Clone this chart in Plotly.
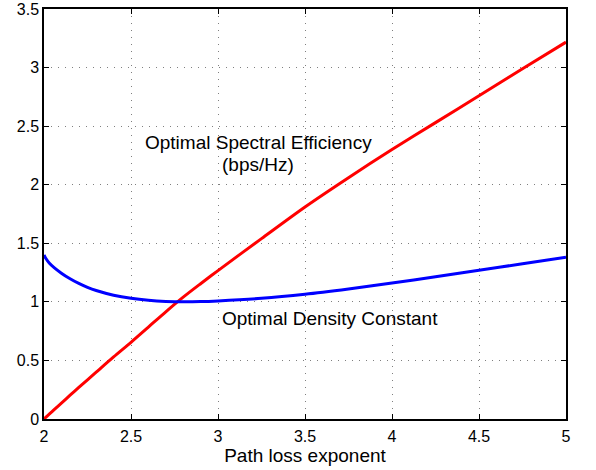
import plotly.graph_objects as go

# Path loss exponent samples
alpha = [2.0, 2.01, 2.03, 2.06, 2.1, 2.15, 2.2, 2.25, 2.3, 2.4, 2.5, 2.6, 2.7,
         2.8, 2.9, 3.0, 3.25, 3.5, 3.75, 4.0, 4.25, 4.5, 4.75, 5.0]

# Optimal spectral efficiency (bps/Hz)
spectral_eff = [0.0, 0.014, 0.041, 0.082, 0.135, 0.203, 0.27, 0.335, 0.40, 0.53,
                0.655, 0.785, 0.915, 1.04, 1.155, 1.267, 1.54, 1.81, 2.06, 2.30,
                2.53, 2.76, 2.99, 3.217]

# Optimal density constant
density_const = [1.40, 1.372, 1.332, 1.29, 1.245, 1.197, 1.157, 1.124, 1.097,
                 1.057, 1.031, 1.014, 1.004, 1.0, 1.002, 1.008, 1.03, 1.065,
                 1.11, 1.16, 1.215, 1.27, 1.325, 1.38]

x_ticks = [2, 2.5, 3, 3.5, 4, 4.5, 5]
x_tick_labels = ["2", "2.5", "3", "3.5", "4", "4.5", "5"]
y_ticks = [0, 0.5, 1, 1.5, 2, 2.5, 3, 3.5]
y_tick_labels = ["0", "0.5", "1", "1.5", "2", "2.5", "3", "3.5"]

FONT = "Liberation Sans, Arial, Helvetica, sans-serif"

fig = go.Figure()
fig.add_trace(go.Scatter(x=alpha, y=spectral_eff, mode="lines",
                         line=dict(color="#ff0000", width=3, shape="spline", smoothing=0.8),
                         showlegend=False, hoverinfo="skip"))
fig.add_trace(go.Scatter(x=alpha, y=density_const, mode="lines",
                         line=dict(color="#0000ff", width=3, shape="spline", smoothing=0.8),
                         showlegend=False, hoverinfo="skip"))

axis_common = dict(
    showline=True, linecolor="black", linewidth=1.5, mirror="ticks",
    ticks="inside", ticklen=5, tickcolor="black", tickwidth=1,
    showgrid=True, gridcolor="rgba(0,0,0,0.5)", gridwidth=1, griddash="1px,6px",
    zeroline=False, automargin=False, ticklabeloverflow="allow",
    tickfont=dict(family=FONT, size=16, color="black"),
)

fig.update_xaxes(range=[2, 5], tickvals=x_ticks, ticktext=x_tick_labels,
                 title=dict(text="Path loss exponent", standoff=1,
                            font=dict(family=FONT, size=19, color="black")),
                 ticklabelstandoff=2,
                 **axis_common)
fig.update_yaxes(range=[0, 3.5], tickvals=y_ticks, ticktext=y_tick_labels,
                 ticklabelstandoff=0,
                 **axis_common)

text_font = dict(family=FONT, size=19, color="black")
fig.add_annotation(x=3.232, y=2.358, text="Optimal Spectral Efficiency",
                   showarrow=False, font=text_font, xanchor="center", yanchor="middle")
fig.add_annotation(x=3.227, y=2.17, text="(bps/Hz)",
                   showarrow=False, font=text_font, xanchor="center", yanchor="middle")
fig.add_annotation(x=3.644, y=0.855, text="Optimal Density Constant",
                   showarrow=False, font=text_font, xanchor="center", yanchor="middle")

fig.update_layout(
    width=596, height=470,
    margin=dict(l=44, r=30, t=9, b=51),
    paper_bgcolor="white", plot_bgcolor="white",
    font=dict(family=FONT),
)

fig.write_html("out.html")
